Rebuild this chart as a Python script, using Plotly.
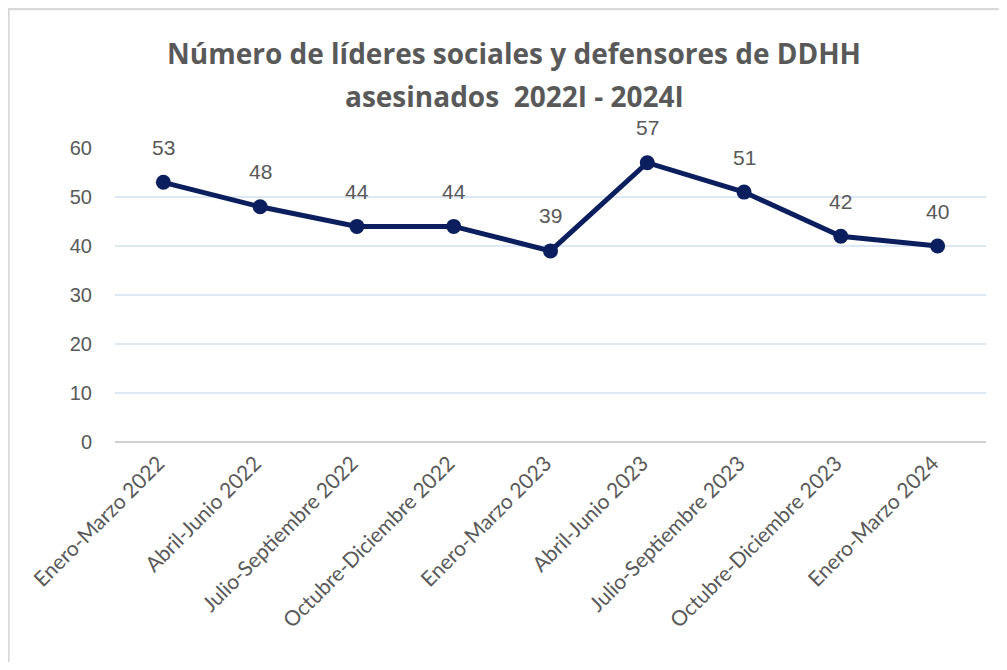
import plotly.graph_objects as go

categories = ["Enero-Marzo 2022", "Abril-Junio 2022", "Julio-Septiembre 2022",
              "Octubre-Diciembre 2022", "Enero-Marzo 2023", "Abril-Junio 2023",
              "Julio-Septiembre 2023", "Octubre-Diciembre 2023", "Enero-Marzo 2024"]
values = [53, 48, 44, 44, 39, 57, 51, 42, 40]
y_ticks = [0, 10, 20, 30, 40, 50, 60]
title_lines = ["Número de líderes sociales y defensores de DDHH",
               "asesinados  2022I - 2024I"]

# page body has an 8px margin; figure is placed at (8, 8)
W, H = 991, 654
ML, MR, MT, MB = 107, 13, 140, 220
PW, PH = W - ML - MR, H - MT - MB

LINE = "#0b1f5e"
GRAY = "#595959"

fig = go.Figure()
fig.add_trace(go.Scatter(
    x=categories, y=values, mode="lines+markers",
    line=dict(color=LINE, width=5),
    marker=dict(color=LINE, size=15),
    hoverinfo="skip", showlegend=False,
))

for c, v in zip(categories, values):
    fig.add_annotation(x=c, y=v, text=str(v), showarrow=False, yshift=35,
                       font=dict(family="Liberation Sans, Arial", size=21, color=GRAY))

def px_x(p):
    return (p - ML) / PW

def px_y(p):
    return (H - MB - p) / PH

for line_text, yc in zip(title_lines, [45, 88]):
    fig.add_annotation(xref="paper", yref="paper", x=px_x(506), y=px_y(yc),
                       xanchor="center", yanchor="middle", showarrow=False,
                       text="<b>" + line_text + "</b>",
                       font=dict(family="Open Sans", size=28, color="#595959"))

fig.add_shape(type="line", xref="paper", yref="paper",
              x0=px_x(0), x1=px_x(W + 20), y0=px_y(1), y1=px_y(1),
              line=dict(color="#d9d9d9", width=2.5))
fig.add_shape(type="line", xref="paper", yref="paper",
              x0=px_x(0.5), x1=px_x(0.5), y0=px_y(1), y1=px_y(H + 20),
              line=dict(color="#d9d9d9", width=2.5))

fig.update_layout(
    width=W, height=H,
    margin=dict(l=ML, r=MR, t=MT, b=MB),
    paper_bgcolor="white", plot_bgcolor="white",
    xaxis=dict(
        type="category", tickangle=-45, showgrid=False, showline=False,
        ticks="", zeroline=False, range=[-0.5, len(categories) - 0.5],
        ticklabelshift=-5, ticklabelstandoff=4,
        tickfont=dict(family="Lato, Open Sans", size=21, color=GRAY),
    ),
    yaxis=dict(
        range=[0, 60], tickvals=y_ticks, showgrid=True, gridcolor="#dce8f4",
        gridwidth=1.5, zeroline=True, zerolinecolor="#d0d0d0", zerolinewidth=2,
        showline=False, ticks="", ticklabelstandoff=22,
        tickfont=dict(family="Liberation Sans, Arial", size=20, color=GRAY),
    ),
)

fig.write_html("out.html")
